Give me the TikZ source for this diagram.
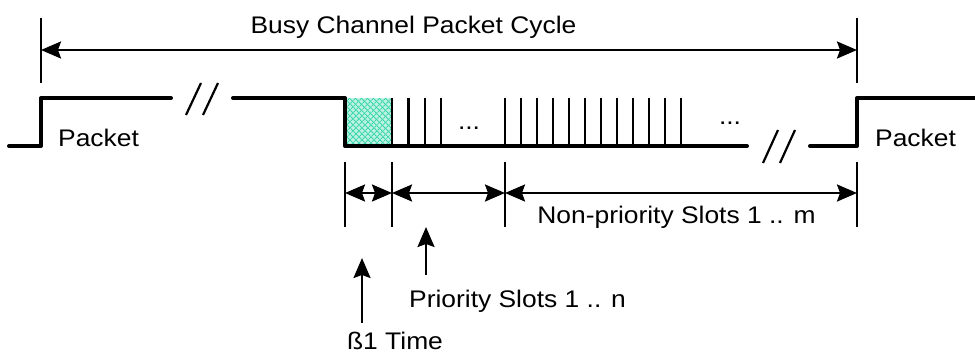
\documentclass[tikz,border=0pt]{standalone}
\usepackage{fontspec}
\usetikzlibrary{arrows.meta,patterns.meta}
\newfontfamily\lab[FakeStretch=1.1]{Liberation Sans}
\definecolor{hatch}{RGB}{60,215,175}
\definecolor{hatchbg}{RGB}{190,242,225}
\begin{document}
\begin{tikzpicture}[x=1pt,y=-1pt,
  >={Stealth[length=20pt,width=17pt,inset=3pt]},
  wave/.style={line width=4pt,line cap=round,line join=round},
  slot/.style={line width=2.6pt},
  tick/.style={line width=2.2pt},
  dim/.style={line width=2.2pt,<->},
  pointer/.style={line width=2.2pt,->},
  label/.style={inner sep=0pt,anchor=base,font=\lab\fontsize{24}{28}\selectfont},
  brk/.style={line width=2.2pt}]
\useasboundingbox (0,0) rectangle (975,356);

% cycle boundaries
\coordinate (cL) at (41,50);
\coordinate (cR) at (857,50);
\draw[tick] (41,18) -- (41,83);
\draw[tick] (857,18) -- (857,83);
\draw[dim] (cL) -- (cR);
\node[label] (title) at (413.5,33) {Busy Channel Packet Cycle};

% contention window hatch
\fill[hatchbg] (345,98) rectangle (392,146);
\fill[pattern={Lines[angle=45,distance=4pt,line width=1.1pt]},pattern color=hatch] (345,98) rectangle (392,146);
\fill[pattern={Lines[angle=-45,distance=4pt,line width=1.1pt]},pattern color=hatch] (345,98) rectangle (392,146);

% waveform
\draw[wave] (9,146) -- (41,146) -- (41,98) -- (171,98);
\draw[wave] (233,98) -- (345,98) -- (345,146) -- (747,146);
\draw[wave] (810,146) -- (857,146) -- (857,98) -- (975,98);

% breaks
\draw[brk] (186,115) -- (201,83);
\draw[brk] (203,115) -- (218,83);
\draw[brk] (763,163) -- (778,130);
\draw[brk] (780,163) -- (795,130);

% slot boundaries
\foreach \x in {392,408.5,425,441} \draw[slot] (\x,98) -- (\x,146);
\foreach \i in {0,...,11} \draw[slot] ({505+16*\i},98) -- ({505+16*\i},146);
\node[label] (dots1) at (469,129.5) {...};
\node[label] (dots2) at (730,124) {...};

% packet labels
\node[label,anchor=base west] (pkL) at (58,146) {Packet};
\node[label,anchor=base west] (pkR) at (875,146) {Packet};

% lower dimensions
\foreach \x in {345,392,505,857} \draw[tick] (\x,162) -- (\x,227);
\coordinate (d0) at (345,193);
\coordinate (d1) at (392,193);
\coordinate (d2) at (505,193);
\coordinate (d3) at (857,193);
\draw[dim] (d0) -- (d1);
\draw[dim] (d1) -- (d2);
\draw[dim] (d2) -- (d3);
\node[label] (nonprio) at (676.5,223) {Non-priority Slots 1 .. m};

% pointers
\node[label] (prio) at (517.5,307) {Priority Slots 1 .. n};
\node[label] (beta) at (395,349) {ß1 Time};
\coordinate (pA) at (426,275);
\coordinate (pB) at (426,227);
\coordinate (bA) at (362,323);
\coordinate (bB) at (362,258);
\draw[pointer] (pA) -- (pB);
\draw[pointer] (bA) -- (bB);
\end{tikzpicture}
\end{document}
